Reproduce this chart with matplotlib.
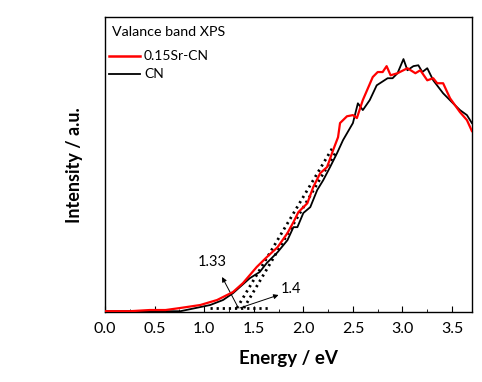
import matplotlib.pyplot as plt
from matplotlib.ticker import MultipleLocator

plt.rcParams["font.family"] = ["Lato", "DejaVu Sans"]

# 0.15Sr-CN valence band spectrum (normalised intensity)
sr_energy = [0.00, 0.25, 0.45, 0.61, 0.76, 0.96, 1.13, 1.29, 1.39, 1.53, 1.63, 1.74,
             1.84, 1.90, 1.95, 2.04, 2.10, 2.17, 2.24, 2.30, 2.35, 2.37, 2.44, 2.50,
             2.54, 2.60, 2.70, 2.75, 2.80, 2.84, 2.88, 2.95, 3.05, 3.13, 3.18, 3.25,
             3.31, 3.35, 3.41, 3.48, 3.58, 3.65, 3.70]
sr_intensity = [0.003, 0.003, 0.007, 0.007, 0.014, 0.024, 0.041, 0.068, 0.098, 0.153,
                0.186, 0.220, 0.268, 0.305, 0.339, 0.369, 0.424, 0.471, 0.492, 0.549,
                0.593, 0.641, 0.664, 0.668, 0.658, 0.719, 0.797, 0.814, 0.814, 0.834,
                0.803, 0.810, 0.827, 0.810, 0.820, 0.786, 0.793, 0.776, 0.776, 0.725,
                0.678, 0.651, 0.614]

# CN valence band spectrum
cn_energy = [0.00, 0.76, 0.96, 1.06, 1.19, 1.29, 1.36, 1.46, 1.56, 1.63, 1.74, 1.84,
             1.90, 1.94, 2.00, 2.07, 2.14, 2.20, 2.27, 2.34, 2.40, 2.50, 2.55, 2.60,
             2.67, 2.74, 2.85, 2.90, 2.95, 3.01, 3.05, 3.11, 3.16, 3.20, 3.25, 3.31,
             3.41, 3.51, 3.58, 3.65, 3.70]
cn_intensity = [0.003, 0.003, 0.017, 0.024, 0.041, 0.064, 0.085, 0.115, 0.136, 0.166,
                0.203, 0.244, 0.288, 0.288, 0.336, 0.356, 0.414, 0.447, 0.492, 0.539,
                0.583, 0.641, 0.708, 0.685, 0.719, 0.769, 0.793, 0.793, 0.810, 0.858,
                0.820, 0.834, 0.837, 0.814, 0.827, 0.786, 0.742, 0.708, 0.685, 0.668,
                0.641]

# tangent / baseline construction lines
baseline_x = [1.06, 1.64]
baseline_y = [0.0136, 0.0136]
tangent_sr_x = [1.33, 2.30]
tangent_sr_y = [0.0136, 0.56]
tangent_cn_x = [1.40, 2.34]
tangent_cn_y = [0.0136, 0.549]

fig = plt.figure(figsize=(4.82, 3.82), dpi=100)
ax = fig.add_axes([0.218, 0.183, 0.761, 0.772])

ax.plot(cn_energy, cn_intensity, color="black", lw=1.3, zorder=3)
ax.plot(sr_energy, sr_intensity, color="#ff0000", lw=1.6, zorder=4)

for xs, ys in [(baseline_x, baseline_y), (tangent_sr_x, tangent_sr_y), (tangent_cn_x, tangent_cn_y)]:
    ax.plot(xs, ys, color="black", lw=2.0, linestyle=(0, (0.8, 1.4)), zorder=2)

arrow = dict(arrowstyle="-|>", color="black", lw=0.7, mutation_scale=7, shrinkA=0, shrinkB=0)
ax.annotate("", xy=(1.18, 0.119), xytext=(1.34, 0.017), arrowprops=arrow)
ax.annotate("", xy=(1.75, 0.058), xytext=(1.36, 0.014), arrowprops=arrow)
ax.text(1.08, 0.17, "1.33", fontsize=10.5, ha="center", va="center")
ax.text(1.88, 0.077, "1.4", fontsize=10.5, ha="center", va="center")

# legend block (title + two entries)
ax.text(0.019, 0.949, "Valance band XPS", transform=ax.transAxes, fontsize=10.3,
        ha="left", va="center")
ax.plot([0.01, 0.095], [0.868, 0.868], transform=ax.transAxes, color="#ff0000", lw=1.8)
ax.text(0.106, 0.868, "0.15Sr-CN", transform=ax.transAxes, fontsize=10,
        ha="left", va="center")
ax.plot([0.01, 0.095], [0.807, 0.807], transform=ax.transAxes, color="black", lw=1.3)
ax.text(0.106, 0.807, "CN", transform=ax.transAxes, fontsize=10,
        ha="left", va="center")

ax.set_xlim(0, 3.7)
ax.set_ylim(0, 1)
ax.xaxis.set_major_locator(MultipleLocator(0.5))
ax.xaxis.set_minor_locator(MultipleLocator(0.25))
ax.xaxis.set_major_formatter(plt.FormatStrFormatter("%.1f"))
ax.tick_params(axis="x", which="both", direction="in", top=False, labelsize=11.5, pad=7)
ax.tick_params(axis="x", which="major", length=4)
ax.tick_params(axis="x", which="minor", length=2.5)
ax.set_yticks([])
for s in ax.spines.values():
    s.set_linewidth(1.0)

ax.set_xlabel("Energy / eV", fontsize=13.5, fontweight="bold", labelpad=10)
ax.set_ylabel("Intensity / a.u.", fontsize=13, fontweight="bold", labelpad=16)

fig.savefig("out.png", dpi=100)
